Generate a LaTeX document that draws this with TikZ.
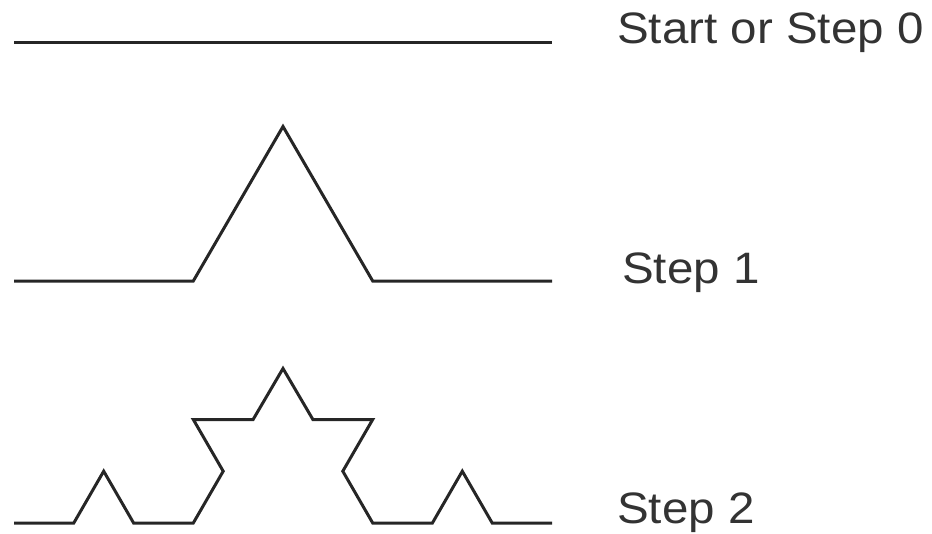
\documentclass[tikz,border=0pt]{standalone}
\usepackage{fontspec}
\setmainfont{Liberation Sans}
\begin{document}
\begin{tikzpicture}[x=1pt,y=-1pt,
  curve/.style={line width=3pt,color=black!85,line join=miter},
  lbl/.style={anchor=base west,inner sep=0pt,font=\fontsize{44}{48}\selectfont,text=black!80}]
\useasboundingbox (0,0) rectangle (932,533);
% Step 0
\coordinate (a0) at (14,42);
\coordinate (a1) at (552,42);
\draw[curve] (a0) -- (a1);
% Step 1
\coordinate (b0) at (14,281);
\coordinate (b1) at (193.3,281);
\coordinate (b2) at (283,126.5);
\coordinate (b3) at (372.7,281);
\coordinate (b4) at (552,281);
\draw[curve] (b0) -- (b1) -- (b2) -- (b3) -- (b4);
% Step 2
\coordinate (c0) at (14,523);
\coordinate (c1) at (73.8,523);
\coordinate (c2) at (103.7,471.2);
\coordinate (c3) at (133.6,523);
\coordinate (c4) at (193.3,523);
\coordinate (c5) at (223.2,471.2);
\coordinate (c6) at (193.3,419.5);
\coordinate (c7) at (253.1,419.5);
\coordinate (c8) at (283,368.5);
\coordinate (c9) at (312.9,419.5);
\coordinate (c10) at (372.7,419.5);
\coordinate (c11) at (342.8,471.2);
\coordinate (c12) at (372.7,523);
\coordinate (c13) at (432.4,523);
\coordinate (c14) at (462.3,471.2);
\coordinate (c15) at (492.2,523);
\coordinate (c16) at (552,523);
\draw[curve] (c0) -- (c1) -- (c2) -- (c3) -- (c4) -- (c5) -- (c6) -- (c7) -- (c8)
  -- (c9) -- (c10) -- (c11) -- (c12) -- (c13) -- (c14) -- (c15) -- (c16);
% Labels
\node[lbl] (l0) at (617,43) {\scalebox{1.08}[1]{Start or Step 0}};
\node[lbl] (l1) at (622,283) {\scalebox{1.08}[1]{Step 1}};
\node[lbl] (l2) at (617,523) {\scalebox{1.08}[1]{Step 2}};
\end{tikzpicture}
\end{document}
